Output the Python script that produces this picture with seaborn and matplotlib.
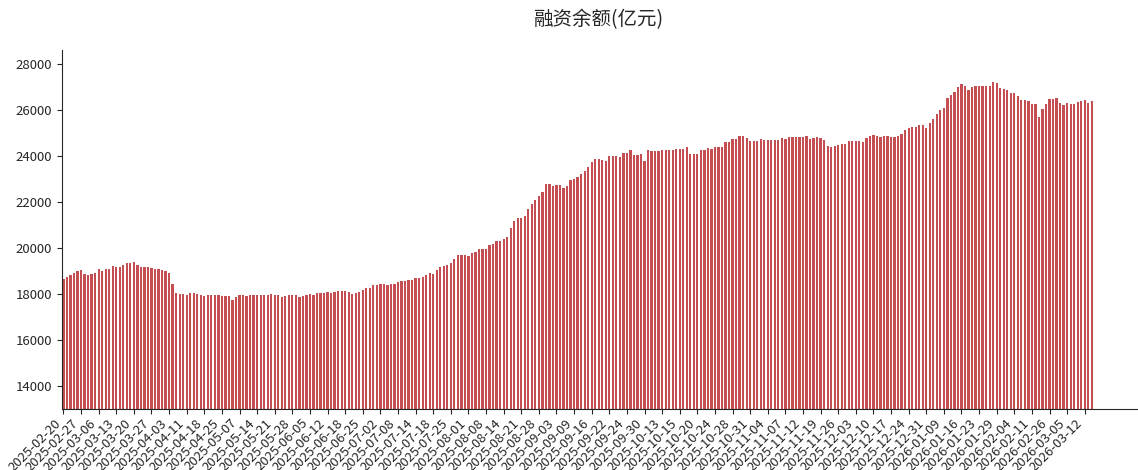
import matplotlib
matplotlib.use('Agg')
import matplotlib.pyplot as plt
import seaborn as sns
import numpy as np
import pandas as pd

# 融资余额 (亿元), one bar per row
balance = [
    18652, 18724, 18826, 18898, 18999, 19014, 18840, 18826, 18855, 18898,
    19057, 18970, 19057, 19072, 19202, 19144, 19144, 19260, 19347, 19347,
    19376, 19231, 19173, 19144, 19159, 19115, 19086, 19057, 19014, 18999,
    18898, 18420, 18029, 17971, 17985, 17956, 18029, 18043, 17985, 17956,
    17898, 17956, 17956, 17956, 17927, 17884, 17898, 17884, 17739, 17869,
    17942, 17942, 17898, 17942, 17956, 17956, 17942, 17927, 17956, 17985,
    17956, 17942, 17870, 17913, 17956, 17956, 17942, 17870, 17913, 17927,
    17985, 17927, 18014, 18029, 18043, 18072, 18029, 18087, 18130, 18130,
    18130, 18072, 18000, 18043, 18087, 18145, 18246, 18246, 18362, 18391,
    18406, 18435, 18377, 18435, 18435, 18493, 18536, 18536, 18580, 18609,
    18681, 18681, 18739, 18826, 18898, 18869, 19014, 19174, 19203, 19261,
    19319, 19507, 19666, 19695, 19695, 19637, 19753, 19826, 19943, 19957,
    19943, 20102, 20174, 20290, 20290, 20377, 20464, 20855, 21145, 21290,
    21290, 21377, 21696, 21899, 22087, 22261, 22420, 22768, 22768, 22681,
    22710, 22710, 22609, 22681, 22957, 23000, 23058, 23203, 23319, 23507,
    23725, 23840, 23840, 23811, 23768, 23971, 23971, 23971, 23942, 24101,
    24101, 24246, 24043, 24043, 24072, 23753, 24261, 24217, 24217, 24203,
    24246, 24246, 24246, 24261, 24290, 24290, 24290, 24377, 24087, 24087,
    24087, 24232, 24232, 24319, 24305, 24363, 24363, 24363, 24595, 24595,
    24725, 24725, 24841, 24841, 24768, 24652, 24652, 24652, 24725, 24696,
    24696, 24696, 24696, 24696, 24768, 24725, 24797, 24797, 24797, 24826,
    24797, 24841, 24710, 24768, 24812, 24768, 24696, 24421, 24377, 24421,
    24479, 24508, 24522, 24624, 24652, 24624, 24624, 24595, 24768, 24870,
    24913, 24870, 24797, 24841, 24841, 24820, 24798, 24841, 24957, 25117,
    25218, 25262, 25233, 25320, 25349, 25218, 25406, 25595, 25827, 26001,
    26073, 26522, 26624, 26769, 26971, 27102, 27029, 26870, 27000, 27029,
    27015, 27029, 27015, 27015, 27203, 27174, 26957, 26884, 26855, 26711,
    26711, 26595, 26435, 26435, 26392, 26232, 26247, 25682, 26030, 26247,
    26464, 26479, 26508, 26290, 26218, 26290, 26232, 26232, 26334, 26392,
    26421, 26290, 26392,
]

# dates shown under every 5th bar
tick_labels = [
    '2025-02-20', '2025-02-27', '2025-03-06', '2025-03-13', '2025-03-20',
    '2025-03-27', '2025-04-03', '2025-04-11', '2025-04-18', '2025-04-25',
    '2025-05-07', '2025-05-14', '2025-05-21', '2025-05-28', '2025-06-05',
    '2025-06-12', '2025-06-18', '2025-06-25', '2025-07-02', '2025-07-08',
    '2025-07-14', '2025-07-18', '2025-07-25', '2025-08-01', '2025-08-08',
    '2025-08-14', '2025-08-21', '2025-08-28', '2025-09-03', '2025-09-09',
    '2025-09-16', '2025-09-22', '2025-09-24', '2025-09-30', '2025-10-13',
    '2025-10-15', '2025-10-20', '2025-10-24', '2025-10-28', '2025-10-31',
    '2025-11-04', '2025-11-07', '2025-11-12', '2025-11-19', '2025-11-26',
    '2025-12-03', '2025-12-10', '2025-12-17', '2025-12-24', '2025-12-31',
    '2026-01-09', '2026-01-16', '2026-01-23', '2026-01-29', '2026-02-04',
    '2026-02-11', '2026-02-26', '2026-03-05', '2026-03-12',
]
tick_step = 5

sns.set_style('ticks')
plt.rcParams['font.family'] = ['Noto Sans CJK SC', 'DejaVu Sans']
plt.rcParams['axes.unicode_minus'] = False

df = pd.DataFrame({'pos': np.arange(len(balance)), 'balance': balance})

fig = plt.figure(figsize=(11.38, 4.70), dpi=100)
ax = fig.add_axes([0.0545, 0.130, 0.9445, 0.764])
sns.barplot(data=df, x='pos', y='balance', color='#C44E52', saturation=1,
            width=0.65, linewidth=0, ax=ax)

ax.set_xticks(np.arange(0, len(tick_labels) * tick_step, tick_step))
ax.set_xticklabels(tick_labels, rotation=45, ha='right', fontsize=9.5)
ax.tick_params(axis='x', pad=2)
ax.set_xlim(-0.4, 304.8)
ax.set_ylim(13000, 28600)
ax.set_yticks(np.arange(14000, 28001, 2000))
ax.tick_params(axis='y', labelsize=9.5)
ax.set_xlabel('')
ax.set_ylabel('')
ax.set_title('融资余额(亿元)', fontsize=14, pad=18)
sns.despine(ax=ax)

fig.savefig('out.png', dpi=100)
